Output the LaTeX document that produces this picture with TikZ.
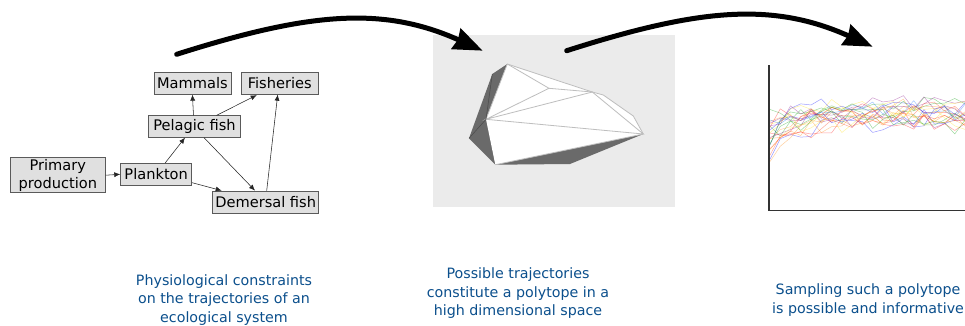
\documentclass[tikz,border=0pt]{standalone}
\usepackage{fontspec}
\setmainfont{DejaVu Sans}
\usetikzlibrary{arrows.meta}
\definecolor{capblue}{HTML}{0B4F8C}
\definecolor{boxfill}{HTML}{E0E0E0}
\definecolor{boxline}{HTML}{5A5A5A}
\definecolor{panel}{HTML}{EBEBEB}
\definecolor{darkface}{HTML}{6A6A6A}
\definecolor{edgeline}{HTML}{BEBEBE}
\tikzset{
  boxnode/.style={draw=boxline,fill=boxfill,line width=0.8pt,inner sep=0pt,align=center,
    font=\fontsize{14.6}{18}\selectfont,text=black},
  caption/.style={align=center,text=capblue,inner sep=0pt,font=\fontsize{14.25}{18.7}\selectfont},
  link/.style={draw=black!85,line width=0.55pt,-{Latex[length=6pt,width=5pt]}},
  bigarrow/.style={line width=5pt,line cap=round,-{Stealth[length=29pt,width=22pt,inset=2pt]}},
  polyedge/.style={draw=edgeline,line width=0.8pt},
  traceline/.style={line width=0.5pt,opacity=0.38,line join=round}
}
\begin{document}
\begin{tikzpicture}[x=1pt,y=-1pt]
\useasboundingbox (0,0) rectangle (965,325);

% food web
\node[boxnode,minimum width=77pt,minimum height=21.5pt] (mam) at (192.4,83.5) {Mammals};
\node[boxnode,minimum width=77.5pt,minimum height=21.5pt] (fis) at (279.7,83.5) {Fisheries};
\node[boxnode,minimum width=91.5pt,minimum height=21.5pt] (pel) at (194.5,126.5) {Pelagic fish};
\node[boxnode,minimum width=95pt,minimum height=35pt] (pri) at (57.8,175.2) {\raisebox{-1pt}{Primary}\\\raisebox{-1pt}{production}};
\node[boxnode,minimum width=71pt,minimum height=22pt] (pla) at (156.2,174.3) {Plankton};
\node[boxnode,minimum width=106pt,minimum height=22pt] (dem) at (265.7,202) {Demersal fish};

\draw[link] (pri.east) -- (pla.west);
\draw[link] ([xshift=-1pt]pel.north) -- (mam.south);
\draw[link] ([xshift=22pt]pel.north) -- ([xshift=-23pt,yshift=-0.5pt]fis.south);
\draw[link] ([xshift=9pt]pla.north) -- ([xshift=-9.5pt]pel.south);
\draw[link] ([xshift=9.5pt]pel.south) -- ([xshift=-10.7pt]dem.north);
\draw[link] ([yshift=-8.4pt]pla.east) -- ([xshift=-44pt]dem.north);
\draw[link] ([xshift=1pt]dem.north) -- ([xshift=-2pt]fis.south);

% polytope panel
\fill[panel] (432.7,34.7) rectangle (675,206.7);
\coordinate (A) at (507.3,64);
\coordinate (B) at (492.3,74);
\coordinate (C) at (469,138.3);
\coordinate (D) at (486,119.3);
\coordinate (E) at (495.3,164.7);
\coordinate (F) at (570,164);
\coordinate (G) at (643.3,134);
\coordinate (H) at (633.3,116);
\coordinate (I) at (603.3,95);
\coordinate (J) at (592.3,92);
\coordinate (K) at (549,88.3);
\fill[darkface] (A) -- (B) -- (C) -- (E) -- (F) -- (G) -- (D) -- cycle;
\fill[white] (A) -- (J) -- (I) -- (H) -- (G) -- (E) -- (D) -- cycle;
\draw[polyedge] (A) -- (J) -- (I) -- (H) -- (G);
\draw[polyedge] (A) -- (K) -- (D) -- (J) -- (G) -- (D);
\draw[polyedge] (K) -- (J);
\draw[polyedge] (E) -- (G);
\draw[polyedge] (A) -- (D);
\draw[draw=darkface!70!black,line width=0.5pt] (B) -- (D) -- (C);

% trajectories
\pgfmathsetseed{41}
\foreach \c/\o/\p in {
  red/10/0, blue/28/40, green!60!black/12/80, orange/12/120, violet/24/160, yellow!80!orange/18/200,
  red/6/240, blue/30/280, green!60!black/8/320, orange/16/30, violet/4/70, yellow!80!orange/20/110,
  red/26/150, blue/14/190, green!60!black/26/230, orange/8/270, violet/14/310, yellow!80!orange/6/350,
  red!70!orange/22/20, blue!60!cyan/2/60, orange/30/100, green!60!black/18/140}{
  \draw[traceline,color=\c] plot[samples=20,domain=770:965]
    (\x,{118-0.025*(\x-770)+9*rand+8*sin(\p+1.6*(\x-770))+4*sin(3*\p+40)+\o*exp(-(\x-770)/14)});
}
\draw[draw=black!80,line width=1.2pt] (769,65) -- (769,210.7) -- (965,210.7);

% big arrows
\coordinate (a1s) at (176.7,54.3);
\coordinate (a1e) at (482.7,50.7);
\coordinate (a2s) at (566.7,50.7);
\coordinate (a2e) at (872.7,46.7);
\draw[bigarrow] (a1s) .. controls (310,12) and (383,6) .. (a1e);
\draw[bigarrow] (a2s) .. controls (700,8) and (773,2) .. (a2e);

% captions
\node[caption] (c1) at (224,299.8) {Physiological constraints\\on the trajectories of an\\ecological system};
\node[caption] (c2) at (518,293.3) {Possible trajectories\\constitute a polytope in a\\high dimensional space};
\node[caption] (c3) at (868,299.8) {Sampling such a polytope\\is possible and informative};
\end{tikzpicture}
\end{document}
